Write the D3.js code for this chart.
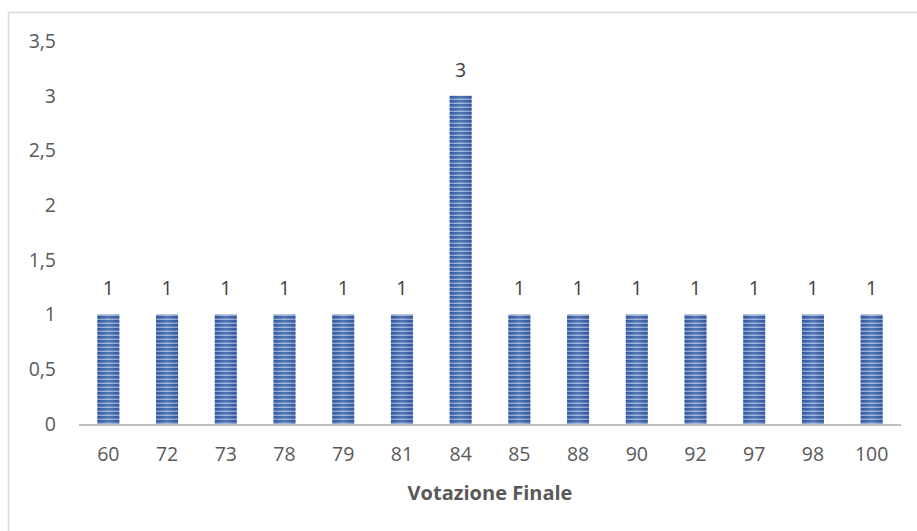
<!DOCTYPE html>
<html>
<head>
<meta charset="utf-8">
<script src="https://cdn.jsdelivr.net/npm/d3@7"></script>
<style>
body { margin: 0; background: #fff; }
svg text { font-family: "Open Sans", "Noto Sans", sans-serif; fill: #595959; }
</style>
</head>
<body>
<svg id="chart" width="917" height="531"></svg>
<script>
// dati
var categories = ["60", "72", "73", "78", "79", "81", "84", "85", "88", "90", "92", "97", "98", "100"];
var values = [1, 1, 1, 1, 1, 1, 3, 1, 1, 1, 1, 1, 1, 1];
var yTicks = [0, 0.5, 1, 1.5, 2, 2.5, 3, 3.5];

var width = 917;
var height = 531;
var margin = {left: 79, right: 16, top: 41, bottom: 107};

var svg = d3.select('#chart');

// cornice esterna (solo sinistra e sopra visibili)
svg.append('rect')
	.attr('x', 8.5).attr('y', 12.5)
	.attr('width', 1000).attr('height', 1000)
	.attr('fill', 'none')
	.attr('stroke', '#d9d9d9')
	.attr('stroke-width', 1.5);

// pattern a righe orizzontali
var defs = svg.append('defs');
var grad = defs.append('linearGradient').attr('id', 'shade')
	.attr('x1', '0').attr('x2', '1').attr('y1', '0').attr('y2', '0');
grad.append('stop').attr('offset', '0').attr('stop-color', '#2a4f94');
grad.append('stop').attr('offset', '0.5').attr('stop-color', '#dfe6f4');
grad.append('stop').attr('offset', '1').attr('stop-color', '#2a4f94');

var pat = defs.append('pattern').attr('id', 'stripes')
	.attr('patternUnits', 'userSpaceOnUse')
	.attr('width', 4).attr('height', 4);
pat.append('rect').attr('width', 4).attr('height', 4).attr('fill', '#9fb2d8');
pat.append('rect').attr('y', 0).attr('width', 4).attr('height', 2.6).attr('fill', '#2f5aa5');

var x = d3.scaleBand()
	.domain(categories)
	.range([margin.left, width - margin.right])
	.paddingInner(0.625)
	.paddingOuter(0.3125);

var y = d3.scaleLinear()
	.domain([0, 3.5])
	.range([height - margin.bottom, margin.top]);

var fmt = function(d) { return String(d).replace('.', ','); };

// etichette asse y
svg.append('g')
	.selectAll('text')
	.data(yTicks)
	.enter()
	.append('text')
	.attr('x', 56)
	.attr('y', function(d) { return y(d); })
	.attr('dy', '0.35em')
	.attr('text-anchor', 'end')
	.attr('font-size', 19.5)
	.text(fmt);

// barre
var bars = svg.append('g')
	.selectAll('g')
	.data(values)
	.enter()
	.append('g');

bars.append('rect')
	.attr('x', function(d, i) { return x(categories[i]); })
	.attr('y', function(d) { return y(d); })
	.attr('width', x.bandwidth())
	.attr('height', function(d) { return y(0) - y(d); })
	.attr('fill', 'url(#stripes)');

bars.append('rect')
	.attr('x', function(d, i) { return x(categories[i]); })
	.attr('y', function(d) { return y(d); })
	.attr('width', x.bandwidth())
	.attr('height', function(d) { return y(0) - y(d); })
	.attr('fill', 'url(#shade)')
	.attr('opacity', 0.2);

// valori sopra le barre
bars.append('text')
	.attr('x', function(d, i) { return x(categories[i]) + x.bandwidth() / 2; })
	.attr('y', function(d) { return y(d) - 26; })
	.attr('dy', '0.35em')
	.attr('text-anchor', 'middle')
	.attr('font-size', 19.5)
	.style('fill', '#404040')
	.text(function(d) { return d; });

// asse x
svg.append('line')
	.attr('x1', margin.left).attr('x2', width - margin.right)
	.attr('y1', y(0) + 1).attr('y2', y(0) + 1)
	.attr('stroke', '#bfbfbf')
	.attr('stroke-width', 2);

svg.append('g')
	.selectAll('text')
	.data(categories)
	.enter()
	.append('text')
	.attr('x', function(d) { return x(d) + x.bandwidth() / 2; })
	.attr('y', y(0) + 30)
	.attr('dy', '0.35em')
	.attr('text-anchor', 'middle')
	.attr('font-size', 19.5)
	.text(function(d) { return d; });

// titolo asse
svg.append('text')
	.attr('x', (margin.left + width - margin.right) / 2)
	.attr('y', 493)
	.attr('dy', '0.35em')
	.attr('text-anchor', 'middle')
	.attr('font-size', 20)
	.attr('font-weight', 'bold')
	.text('Votazione Finale');
</script>
</body>
</html>
